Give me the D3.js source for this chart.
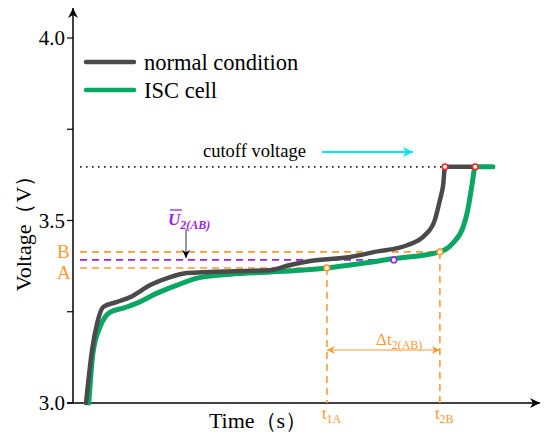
<!DOCTYPE html>
<html>
<head>
<meta charset="utf-8">
<script src="https://cdn.jsdelivr.net/npm/d3@7"></script>
<style>
  body { margin: 0; background: #fff; }
  svg text { font-family: "Liberation Serif", "Times New Roman", "DejaVu Serif", serif; }
</style>
</head>
<body>
<svg id="chart" width="550" height="437"></svg>
<script>
// time in arbitrary units, voltage in V
const normalTime = [2.8, 4.1, 5.2, 6.5, 9.5, 12.3, 16.6, 20.9, 24.5, 29.5, 42.4, 46.7, 51.0, 59.6, 64.9, 72.0, 75.7, 77.8, 78.9, 79.6, 80.0, 86.2];
const normalVolt = [3.000, 3.145, 3.219, 3.263, 3.277, 3.290, 3.323, 3.345, 3.356, 3.359, 3.364, 3.378, 3.389, 3.400, 3.414, 3.433, 3.460, 3.501, 3.556, 3.597, 3.647, 3.647];

const iscTime = [3.4, 4.3, 5.8, 8.0, 10.8, 13.8, 18.1, 22.4, 26.7, 33.8, 42.4, 48.8, 54.6, 59.6, 68.8, 78.9, 81.7, 83.9, 84.9, 85.8, 86.5, 90.3];
const iscVolt = [3.000, 3.137, 3.208, 3.249, 3.260, 3.274, 3.301, 3.323, 3.342, 3.353, 3.359, 3.364, 3.370, 3.378, 3.395, 3.414, 3.438, 3.482, 3.529, 3.597, 3.647, 3.647];

const yTicks = [3.0, 3.5, 4.0];
const yMinorTicks = [3.25, 3.75];

const cutoffVolt = 3.647;
const voltA = 3.370;
const voltB = 3.414;
const voltMean = 3.392;
const t1A = 54.6;
const t2B = 78.9;
const tMean = 69.0;

const seriesNames = ['normal condition', 'ISC cell'];

const grayColor = '#4a4a4a';
const greenColor = '#0aa764';
const orange = '#ff9933';
const purple = '#a020f0';
const serif = '"Liberation Serif", "Times New Roman", "DejaVu Serif", serif';

const svg = d3.select('#chart');

const x = d3.scaleLinear().domain([0, 100]).range([73, 538]);
const y = d3.scaleLinear().domain([3.0, 4.0]).range([403, 38]);

// arrow markers
const defs = svg.append('defs');
function marker(id, color, w, h) {
    defs.append('marker')
        .attr('id', id)
        .attr('viewBox', '0 0 10 10')
        .attr('refX', 10).attr('refY', 5)
        .attr('markerUnits', 'userSpaceOnUse')
        .attr('markerWidth', w).attr('markerHeight', h)
        .attr('orient', 'auto-start-reverse')
        .append('path')
            .attr('d', 'M0,0 L10,5 L0,10 L3,5 Z')
            .style('fill', color);
}
marker('axisArrow', '#000', 14, 10);
marker('cyanArrow', '#00e5f5', 16, 10);
marker('orangeArrow', orange, 12, 8);
marker('blackArrow', '#000', 8, 10);

// Axes
svg.append('line')
    .attr('x1', x(0)).attr('y1', y(3.0))
    .attr('x2', x(0)).attr('y2', 8)
    .style('stroke', '#000').style('stroke-width', 1.5)
    .attr('marker-end', 'url(#axisArrow)');

svg.append('line')
    .attr('x1', x(0) - 6).attr('y1', y(3.0))
    .attr('x2', 540).attr('y2', y(3.0))
    .style('stroke', '#000').style('stroke-width', 1.5)
    .attr('marker-end', 'url(#axisArrow)');

svg.selectAll('.yTick')
    .data(yTicks.concat(yMinorTicks))
    .join('line')
        .classed('yTick', true)
        .attr('x1', x(0) - 6).attr('x2', x(0))
        .attr('y1', d => y(d)).attr('y2', d => y(d))
        .style('stroke', '#000').style('stroke-width', 1.2);

svg.selectAll('.yTickLabel')
    .data(yTicks)
    .join('text')
        .classed('yTickLabel', true)
        .attr('x', x(0) - 8)
        .attr('y', d => y(d))
        .attr('dy', '0.35em')
        .style('text-anchor', 'end')
        .style('font-family', serif)
        .style('font-size', '21px')
        .text(d => d.toFixed(1));

svg.append('text')
    .attr('transform', `translate(31, 228) rotate(-90)`)
    .style('text-anchor', 'middle')
    .style('font-family', serif)
    .style('font-size', '22px')
    .text('Voltage（V）');

svg.append('text')
    .attr('x', 258).attr('y', 428)
    .style('text-anchor', 'middle')
    .style('font-family', serif)
    .style('font-size', '22px')
    .text('Time（s）');

// cutoff voltage
svg.append('line')
    .attr('x1', x(1.5)).attr('x2', x(80))
    .attr('y1', y(cutoffVolt)).attr('y2', y(cutoffVolt))
    .style('stroke', '#222').style('stroke-width', 1.6)
    .style('stroke-dasharray', '1.6,4.4');

svg.append('text')
    .attr('x', 203).attr('y', 157)
    .style('font-family', serif)
    .style('font-size', '18.5px')
    .text('cutoff voltage');

svg.append('line')
    .attr('x1', 322).attr('x2', 413)
    .attr('y1', 152).attr('y2', 152)
    .style('stroke', '#00e5f5').style('stroke-width', 2)
    .attr('marker-end', 'url(#cyanArrow)');

// A / B / mean dashed lines
const dashed = [
    {v: voltB, t: t2B, color: orange},
    {v: voltMean, t: tMean, color: purple},
    {v: voltA, t: t1A, color: orange}
];
svg.selectAll('.hDash')
    .data(dashed)
    .join('line')
        .classed('hDash', true)
        .attr('x1', x(1.5)).attr('x2', d => x(d.t))
        .attr('y1', d => y(d.v)).attr('y2', d => y(d.v))
        .style('stroke', d => d.color).style('stroke-width', 1.6)
        .style('stroke-dasharray', '7,5');

svg.selectAll('.vDash')
    .data([t1A, t2B])
    .join('line')
        .classed('vDash', true)
        .attr('x1', d => x(d)).attr('x2', d => x(d))
        .attr('y1', (d, i) => y(i === 0 ? voltA : voltB)).attr('y2', y(3.0))
        .style('stroke', orange).style('stroke-width', 1.6)
        .style('stroke-dasharray', '7,5');

svg.append('text').attr('x', 57).attr('y', y(voltB) + 6)
    .style('fill', orange).style('font-family', serif).style('font-size', '19px').text('B');
svg.append('text').attr('x', 57).attr('y', y(voltA) + 11)
    .style('fill', orange).style('font-family', serif).style('font-size', '19px').text('A');

// curves
const line = d3.line()
    .x(d => x(d[0]))
    .y(d => y(d[1]))
    .curve(d3.curveMonotoneX);

const iscData = iscTime.map((t, i) => [t, iscVolt[i]]);
const normalData = normalTime.map((t, i) => [t, normalVolt[i]]);

svg.append('path')
    .datum(iscData)
    .attr('d', line)
    .style('fill', 'none')
    .style('stroke', greenColor)
    .style('stroke-width', 5)
    .style('stroke-linecap', 'round');

svg.append('path')
    .datum(normalData)
    .attr('d', line)
    .style('fill', 'none')
    .style('stroke', grayColor)
    .style('stroke-width', 4.5)
    .style('stroke-linecap', 'round');

// marker circles
const circles = [
    {t: t1A, v: voltA, color: orange},
    {t: t2B, v: voltB, color: orange},
    {t: tMean, v: voltMean, color: purple},
    {t: 80.0, v: cutoffVolt, color: '#ff2020'},
    {t: 86.5, v: cutoffVolt, color: '#ff2020'}
];
svg.selectAll('.pt')
    .data(circles)
    .join('circle')
        .classed('pt', true)
        .attr('cx', d => x(d.t)).attr('cy', d => y(d.v))
        .attr('r', 2.8)
        .style('fill', 'white')
        .style('stroke', d => d.color)
        .style('stroke-width', 1.6);

// mean voltage annotation
const uLabel = svg.append('text')
    .attr('x', 168).attr('y', 225)
    .style('fill', purple)
    .style('font-family', serif)
    .style('font-size', '17px')
    .style('font-weight', 'bold')
    .style('font-style', 'italic');
uLabel.append('tspan').text('U');
uLabel.append('tspan').attr('dy', 4).style('font-size', '12px').text('2(AB)');
svg.append('line')
    .attr('x1', 170).attr('x2', 182)
    .attr('y1', 210).attr('y2', 210)
    .style('stroke', purple).style('stroke-width', 1.3);

svg.append('line')
    .attr('x1', 186).attr('x2', 186)
    .attr('y1', 229).attr('y2', y(voltMean) - 2)
    .style('stroke', '#333').style('stroke-width', 1)
    .attr('marker-end', 'url(#blackArrow)');

// delta t annotation
svg.append('line')
    .attr('x1', x(t1A)).attr('x2', x(t2B))
    .attr('y1', 350).attr('y2', 350)
    .style('stroke', orange).style('stroke-width', 1.2)
    .attr('marker-start', 'url(#orangeArrow)')
    .attr('marker-end', 'url(#orangeArrow)');

const dt = svg.append('text')
    .attr('x', 376).attr('y', 345)
    .style('fill', orange).style('font-family', serif).style('font-size', '17px');
dt.append('tspan').text('Δt');
dt.append('tspan').attr('dy', 4).style('font-size', '12px').text('2(AB)');

const tLabels = [{t: t1A, main: 't', sub: '1A'}, {t: t2B, main: 't', sub: '2B'}];
tLabels.forEach(d => {
    const tx = svg.append('text')
        .attr('x', x(d.t) - 5).attr('y', 419)
        .style('fill', orange).style('font-family', serif).style('font-size', '17px');
    tx.append('tspan').text(d.main);
    tx.append('tspan').attr('dy', 4).style('font-size', '12px').text(d.sub);
});

// legend
const legend = svg.append('g');
legend.selectAll('.legLine')
    .data(seriesNames)
    .join('line')
        .classed('legLine', true)
        .attr('x1', 86).attr('x2', 134)
        .attr('y1', (d, i) => 62 + i * 28).attr('y2', (d, i) => 62 + i * 28)
        .style('stroke', (d, i) => i === 0 ? grayColor : greenColor)
        .style('stroke-width', 4.5)
        .style('stroke-linecap', 'round');
legend.selectAll('.legText')
    .data(seriesNames)
    .join('text')
        .classed('legText', true)
        .attr('x', 144)
        .attr('y', (d, i) => 62 + i * 28)
        .attr('dy', '0.35em')
        .style('font-family', serif)
        .style('font-size', '22.5px')
        .text(d => d);
</script>
</body>
</html>
